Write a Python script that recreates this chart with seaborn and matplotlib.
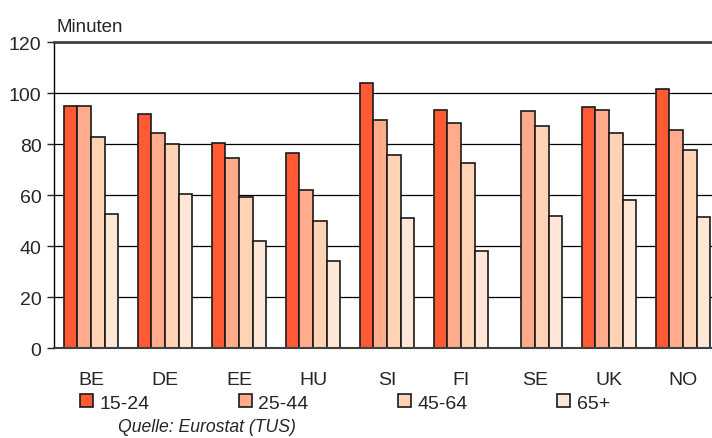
"""Nachbau: Zeitaufwand nach Altersgruppe und Land (Minuten)."""

import numpy as np
import pandas as pd
import matplotlib
matplotlib.use("Agg")
import matplotlib.pyplot as plt
import seaborn as sns


# ====== Daten ======
LAENDER = ["BE", "DE", "EE", "HU", "SI", "FI", "SE", "UK", "NO"]
ALTER = ["15-24", "25-44", "45-64", "65+"]

WERTE_15_24 = [95, 92, 80.5, 76.5, 104, 93.5, np.nan, 94.7, 101.6]
WERTE_25_44 = [95, 84.5, 74.8, 62, 89.6, 88.5, 93, 93.6, 85.6]
WERTE_45_64 = [83, 80, 59.5, 50, 76, 72.5, 87, 84.5, 77.8]
WERTE_65 = [52.7, 60.6, 42, 34.2, 51, 38, 51.8, 58, 51.6]

FARBEN = ["#FF5A33", "#FFAB8C", "#FFD3B4", "#FFE7D8"]


def build_dataframe():
    """Lange Tabelle für seaborn."""
    reihen = [WERTE_15_24, WERTE_25_44, WERTE_45_64, WERTE_65]
    zeilen = []
    for alter, werte in zip(ALTER, reihen):
        for land, wert in zip(LAENDER, werte):
            zeilen.append({"land": land, "alter": alter, "minuten": wert})
    return pd.DataFrame(zeilen)


def main():
    df = build_dataframe()

    sns.set_style("white")
    plt.rcParams["font.family"] = ["Liberation Sans", "DejaVu Sans"]

    fig = plt.figure(figsize=(7.12, 4.39), dpi=100)
    ax = fig.add_axes([54 / 712, 1 - 349.3 / 439, 666 / 712, 306 / 439])

    sns.barplot(
        data=df, x="land", y="minuten", hue="alter",
        order=LAENDER, hue_order=ALTER, palette=FARBEN,
        width=0.73, gap=0, edgecolor="#1a1a1a", linewidth=1.2,
        saturation=1, errorbar=None, ax=ax,
    )

    ax.set_ylim(0, 120)
    ax.set_xlim(-0.5, len(LAENDER) - 0.5)
    ax.set_yticks(range(0, 121, 20))
    ax.yaxis.grid(True, color="black", linewidth=0.9)
    ax.set_axisbelow(True)

    ax.spines["right"].set_visible(False)
    ax.spines["top"].set_color("#404040")
    ax.spines["top"].set_linewidth(2)
    ax.spines["left"].set_color("black")
    ax.spines["left"].set_linewidth(1)
    ax.spines["bottom"].set_color("#404040")
    ax.spines["bottom"].set_linewidth(1.5)

    ax.tick_params(axis="y", left=True, length=5, width=1, pad=4, labelsize=14)
    ax.tick_params(axis="x", bottom=False, pad=13, labelsize=14)
    ax.set_xlabel("")
    ax.set_ylabel("")

    handles, labels = ax.get_legend_handles_labels()
    ax.get_legend().remove()
    fig.legend(
        handles, labels, ncol=4, loc="center left",
        bbox_to_anchor=(80 / 712, 1 - 404 / 439), frameon=False,
        fontsize=14, handlelength=0.65, handleheight=0.65,
        handletextpad=0.35, columnspacing=4.6, borderaxespad=0,
        borderpad=0,
    )

    fig.text(57 / 712, 1 - 27 / 439, "Minuten", fontsize=13.5, va="center")
    fig.text(118 / 712, 1 - 428 / 439, "Quelle: Eurostat (TUS)",
             fontsize=12.7, style="italic", va="center")

    fig.savefig("out.png", dpi=100)


if __name__ == "__main__":
    main()
